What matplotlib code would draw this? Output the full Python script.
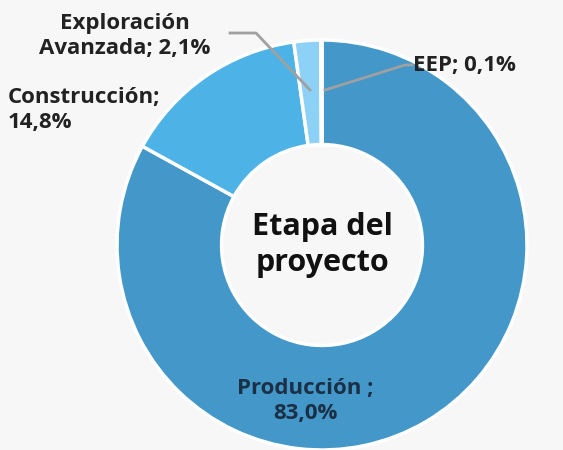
import matplotlib.pyplot as plt

# Data
labels = ["Producción", "Construcción", "Exploración Avanzada", "EEP"]
values = [83.0, 14.8, 2.1, 0.1]
colors = ["#4398c9", "#4db3e6", "#8ed1f6", "#b8e2f8"]

BG = "#f7f7f7"
W, H = 563, 450

plt.rcParams['font.family'] = ['Open Sans', 'DejaVu Sans']

fig = plt.figure(figsize=(W / 100, H / 100), dpi=100)
fig.patch.set_facecolor(BG)
ax = fig.add_axes([0, 0, 1, 1])
ax.set_facecolor(BG)
ax.axis('off')

cx, cy, r = 322, H - 245, 205
ax.pie(values, colors=colors, startangle=90, counterclock=False,
       center=(cx, cy), radius=r,
       wedgeprops=dict(width=r * 0.51, edgecolor="white", linewidth=2.5))
ax.set_xlim(0, W)
ax.set_ylim(0, H)
ax.set_aspect('equal')

# leader lines
ax.plot([230, 256, 310], [H - 33, H - 33, H - 90], color="#a0a0a0", lw=2)
ax.plot([325, 405, 412], [H - 90, H - 65, H - 65], color="#a0a0a0", lw=2)

txt = dict(fontsize=16, fontweight='bold', color="#222222", linespacing=1.3)
ax.text(125, H - 36, "Exploración\nAvanzada; 2,1%", ha='center', va='center', **txt)
ax.text(8, H - 110, "Construcción;\n14,8%", ha='left', va='center', **txt)
ax.text(413, H - 66, "EEP; 0,1%", ha='left', va='center', **txt)
ax.text(cx, H - 245, "Etapa del\nproyecto", ha='center', va='center',
        fontsize=22, fontweight='bold', color="#111111", linespacing=1.25)
ax.text(305, H - 401, "Producción ;\n83,0%", ha='center', va='center',
        fontsize=16, fontweight='bold', color="#1b2f45", linespacing=1.3)

fig.savefig("out.png", dpi=100, facecolor=BG)
